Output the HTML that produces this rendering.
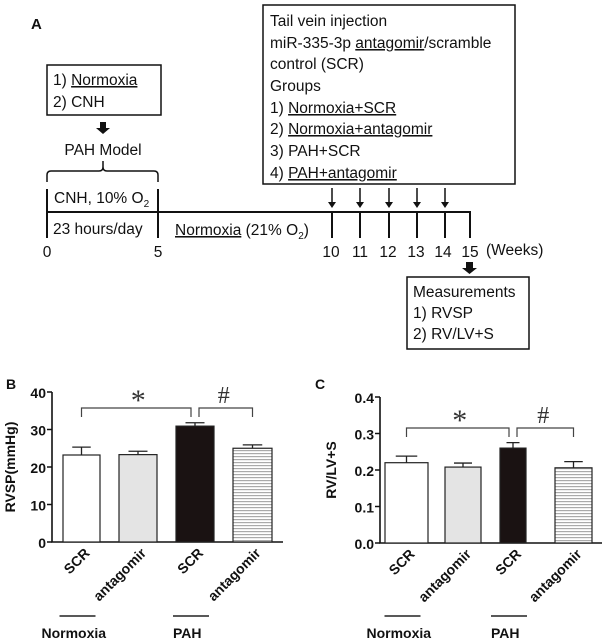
<!DOCTYPE html>
<html><head><meta charset="utf-8">
<style>
body{margin:0;background:#fff;}
svg{display:block;font-family:"Liberation Sans",sans-serif;}
.t{font-size:15.5px;fill:#111;}
.u{text-decoration:underline;text-decoration-color:#d66;}
.ax{font-size:14px;font-weight:bold;fill:#111;}
</style></head>
<body>
<svg width="604" height="641" viewBox="0 0 604 641">
<defs>
<pattern id="hatch" width="4" height="3" patternUnits="userSpaceOnUse"><rect width="4" height="3" fill="#fff"/><rect width="4" height="1.2" fill="#aaa"/></pattern>
</defs>
<g stroke="#111" fill="none">
<text x="31" y="29" stroke="none" style="font-weight:bold;font-size:15px;fill:#111">A</text>
<rect x="47" y="65" width="114" height="50" stroke-width="1.5"/>
<text x="53" y="85" class="t" stroke="none">1) <tspan class="u">Normoxia</tspan></text>
<text x="53" y="107" class="t" stroke="none">2) CNH</text>
<path d="M100 122h6v6h4l-7 6-7-6h4z" fill="#111" stroke="none"/>
<text x="103" y="155" class="t" text-anchor="middle" stroke="none">PAH Model</text>
<path d="M47 182v-7q0-4 4-4h48q4 0 4-4v-6M103 167q0 4 4 4h47q4 0 4 4v7" stroke-width="1.5"/>
<rect x="263" y="5" width="252" height="179" stroke-width="1.5"/>
<g stroke="none">
<text x="270" y="26" class="t">Tail vein injection</text>
<text x="270" y="48" class="t">miR-335-3p <tspan class="u">antagomir</tspan>/scramble</text>
<text x="270" y="69" class="t">control (SCR)</text>
<text x="270" y="91" class="t">Groups</text>
<text x="270" y="113" class="t">1) <tspan class="u">Normoxia+SCR</tspan></text>
<text x="270" y="134" class="t">2) <tspan class="u">Normoxia+antagomir</tspan></text>
<text x="270" y="156" class="t">3) PAH+SCR</text>
<text x="270" y="178" class="t">4) <tspan class="u">PAH+antagomir</tspan></text>
</g>
<path d="M47 212H470V238M47 189V238M158 189V238M332 212V238M360 212V238M389 212V238M417 212V238M445 212V238" stroke-width="2"/>
<g stroke-width="1.5">
<path d="M332 188v17M360 188v17M389 188v17M417 188v17M445 188v17"/>
</g>
<g fill="#111" stroke="none">
<path d="M328 202l4 6 4-6zM356 202l4 6 4-6zM385 202l4 6 4-6zM413 202l4 6 4-6zM441 202l4 6 4-6z"/>
</g>
<g stroke="none">
<text x="54" y="203" class="t">CNH, 10% O<tspan font-size="10" dy="4">2</tspan></text>
<text x="53" y="234" class="t">23 hours/day</text>
<text x="175" y="235" class="t"><tspan class="u">Normoxia</tspan> (21% O<tspan font-size="10" dy="4">2</tspan><tspan dy="-4">)</tspan></text>
<text x="47" y="257" class="t" text-anchor="middle">0</text>
<text x="158" y="257" class="t" text-anchor="middle">5</text>
<text x="331" y="257" class="t" text-anchor="middle">10</text>
<text x="360" y="257" class="t" text-anchor="middle">11</text>
<text x="388" y="257" class="t" text-anchor="middle">12</text>
<text x="416" y="257" class="t" text-anchor="middle">13</text>
<text x="443" y="257" class="t" text-anchor="middle">14</text>
<text x="470" y="257" class="t" text-anchor="middle">15</text>
<text x="486" y="255" class="t">(Weeks)</text>
</g>
<path d="M466 262h7v6h4l-7.5 6-7.5-6h4z" fill="#111" stroke="none"/>
<rect x="407" y="277" width="122" height="72" stroke-width="1.5"/>
<text x="413" y="297" class="t" stroke="none">Measurements</text>
<text x="413" y="318" class="t" stroke="none">1) RVSP</text>
<text x="413" y="339" class="t" stroke="none">2) RV/LV+S</text>
</g>
<g><g id="cb"></g><g id="cc"></g></g>
</svg>
<script>
const categories=["SCR","antagomir","SCR","antagomir"];
const rvspValues=[23.2,23.3,30.9,25.0];
const rvspErrors=[2.1,0.9,0.9,0.9];
const rvspTicks=[0,10,20,30,40];
const ratioValues=[0.22,0.208,0.26,0.206];
const ratioErrors=[0.018,0.011,0.015,0.017];
const ratioTicks=["0.0","0.1","0.2","0.3","0.4"];
const NS="http://www.w3.org/2000/svg";
const fills=["#fff","#e4e4e4","#1a1212","url(#hatch)"];
function mk(p,tag,a,txt){const e=document.createElementNS(NS,tag);for(const k in a)e.setAttribute(k,a[k]);if(txt!==undefined)e.textContent=txt;p.appendChild(e);return e;}
function chart(gid,cfg){
 const g=document.getElementById(gid);
 const y=v=>cfg.y0-(v-cfg.min)/(cfg.max-cfg.min)*(cfg.y0-cfg.y1);
 const l=mk(g,'text',{x:cfg.lx,y:389,class:'ax','font-size':'17'},cfg.letter);
 
 
 const ax=mk(g,'path',{d:`M${cfg.ax} ${cfg.y1}V${cfg.y0}H${cfg.axEnd}`,stroke:'#111','stroke-width':1.6,fill:'none'});
 
 
 cfg.ticks.forEach(t=>{const v=parseFloat(t);const yy=y(v);
  mk(g,'line',{x1:cfg.ax-5,x2:cfg.ax,y1:yy,y2:yy,stroke:'#111','stroke-width':1.5});
  const tx=mk(g,'text',{x:cfg.ax-6,y:yy+6,class:'ax','text-anchor':'end','font-size':'17'},t);
  
  });
 const yt=mk(g,'text',{x:0,y:0,class:'ax','text-anchor':'middle','font-size':'16',transform:`translate(${cfg.titleX},${(cfg.y0+cfg.y1)/2}) rotate(-90)`},cfg.title);
 
 
 const cx=[];
 cfg.vals.forEach((v,i)=>{const x0=cfg.bx[i][0],x1=cfg.bx[i][1],c=(x0+x1)/2;cx.push(c);
  const top=y(v),et=y(v+cfg.errs[i]);
  const b=mk(g,'rect',{x:x0,y:top,width:x1-x0,height:cfg.y0-top,fill:fills[i],stroke:'#222','stroke-width':1.2});
  
  
  const e=mk(g,'path',{d:`M${c} ${top}V${et}M${c-(x1-x0)*0.25} ${et}H${c+(x1-x0)*0.25}`,stroke:'#222','stroke-width':1.3,fill:'none'});
  
  
  const lb=mk(g,'text',{x:0,y:0,class:'ax','text-anchor':'end','font-size':'16',transform:`translate(${c+9},${cfg.y0+12}) rotate(-45)`},categories[i]);
  
  });
 const b1=mk(g,'path',{d:`M${cx[0]} ${cfg.brY+9}V${cfg.brY}H${cx[2]-4}V${cfg.brY+9}M${cx[2]+4} ${cfg.brY+9}V${cfg.brY}H${cx[3]}V${cfg.brY+9}`,stroke:'#444','stroke-width':1.2,fill:'none'});
 
 
 const s=mk(g,'text',{x:(cx[0]+cx[2])/2,y:cfg.brY+2,'text-anchor':'middle','font-size':'30',fill:'#333','font-family':'Liberation Serif'},'*');
 
 
 const h=mk(g,'text',{x:(cx[2]+cx[3])/2,y:cfg.brY-5,'text-anchor':'middle','font-size':'24',fill:'#333','font-family':'Liberation Serif'},'#');
 
 
 [[0,'Normoxia'],[2,'PAH']].forEach(([i,n])=>{
  mk(g,'line',{x1:cx[i]-22,x2:cx[i]+14,y1:616,y2:616,stroke:'#222','stroke-width':1.6});
  const gt=mk(g,'text',{x:cx[i]-40+(i?18:0),y:638,class:'ax','font-size':'16'},n);
  
  });
}
chart('cb',{letter:'B',lx:6,ax:52,axEnd:283,y0:542,y1:392,min:0,max:40,ticks:rvspTicks.map(String),vals:rvspValues,errs:rvspErrors,
 bx:[[63,100],[119,157],[176,214],[233,272]],title:'RVSP(mmHg)',titleX:15,brY:408});
chart('cc',{letter:'C',lx:315,ax:380,axEnd:602,y0:543,y1:397,min:0,max:0.4,ticks:ratioTicks,vals:ratioValues,errs:ratioErrors,
 bx:[[385,428],[445,481],[500,526],[555,592]],title:'RV/LV+S',titleX:336,brY:428});
</script>
</body></html>
